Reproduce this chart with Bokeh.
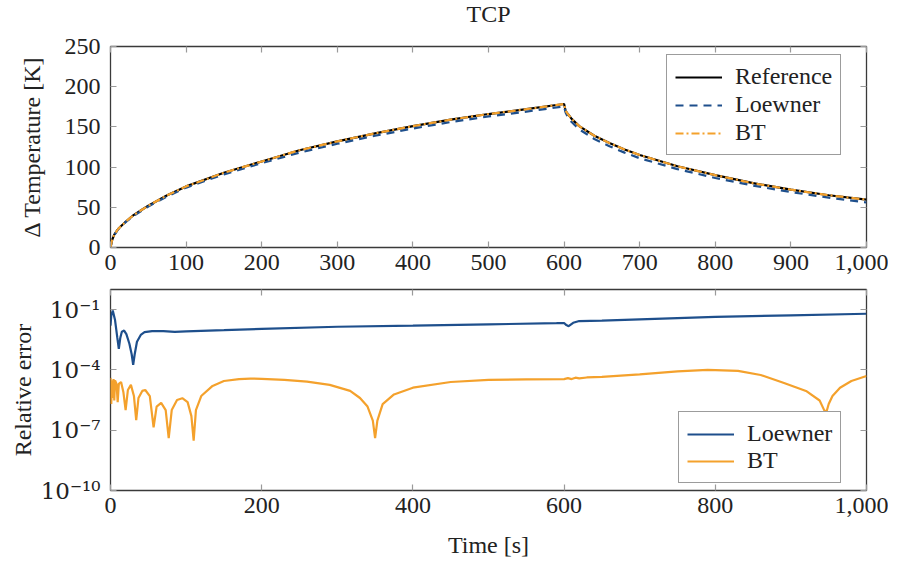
from bokeh.plotting import figure
from bokeh.layouts import column
from bokeh.models import (Range1d, LinearAxis, LogAxis, FixedTicker, NumeralTickFormatter,
                          CustomJSTickFormatter, Legend, LegendItem, CustomLabelingPolicy)
from bokeh.embed import file_html
from bokeh.resources import INLINE

# ---------------- data ----------------
t_top = [0, 2, 5, 10, 20, 30, 40, 50, 75, 100, 150, 200, 250, 300, 350, 400, 450, 500, 550, 600,
         602, 605, 610, 620, 640, 660, 680, 700, 750, 800, 850, 900, 950, 1000]
temp_reference = [0, 9, 16, 23, 32, 40, 46, 52, 65, 76, 93, 107, 121, 132, 142, 151, 159, 166, 172, 178.5,
                  170, 166, 160, 151, 139, 130, 122, 115, 101, 90, 80, 72, 65, 59.5]
temp_loewner = [0, 9, 15.5, 22.5, 31.5, 39, 45, 51, 63.5, 74.5, 91, 105, 118, 129, 139, 148, 156, 163, 169, 175.5,
                168, 162, 156, 147, 135, 126, 118, 111, 97.5, 86.5, 77, 69, 62, 56]
temp_bt = [0, 9, 16, 23, 32, 40, 46, 52, 65, 76, 93, 107, 121, 132, 142, 151, 159, 166, 172, 178.5,
           170, 166, 160, 151, 139, 130, 122, 115, 101, 90, 80, 72, 65, 59.5]

t_err_loewner = [0, 1, 3, 6, 9, 11, 13, 15, 18, 21, 25, 28, 30, 32, 35, 40, 45, 55, 70, 85, 100, 150, 200,
                 300, 400, 500, 590, 600, 603, 606, 612, 620, 650, 700, 800, 900, 1000]
err_loewner = [1.6e-2, 5e-2, 9e-2, 3e-2, 4e-3, 1.1e-3, 4e-3, 8e-3, 9e-3, 6e-3, 2e-3, 6e-4, 1.8e-4, 6e-4, 2.5e-3,
               5.5e-3, 7.5e-3, 8.5e-3, 8.5e-3, 7.8e-3, 8.3e-3, 9.5e-3, 1.1e-2,
               1.4e-2, 1.6e-2, 1.85e-2, 2.1e-2, 2.15e-2, 1.7e-2, 1.5e-2, 2.2e-2, 2.7e-2, 2.8e-2, 3.3e-2, 4.3e-2, 5.2e-2, 6.2e-2]

t_err_bt = [0, 1, 2, 3, 4, 5, 6, 8, 9.5, 11, 14, 17, 20, 23, 27, 31, 34, 37, 42, 46, 52, 57, 61, 67, 73, 77,
            81, 88, 95, 102, 107, 110, 113, 120, 135, 150, 170, 185, 200, 230, 260, 290, 317, 330, 340, 347,
            350, 353, 360, 375, 400, 450, 500, 550, 600, 605, 610, 615, 620, 630, 650, 700, 750, 790, 830,
            860, 890, 920, 938, 944, 947, 950, 955, 965, 980, 1000]
err_bt = [4e-5, 2e-6, 3e-5, 4e-6, 3.5e-5, 3e-6, 3e-5, 2e-5, 2.5e-6, 2e-5, 2.5e-5, 8e-6, 1e-6, 1e-5, 1.8e-5,
          5e-6, 3.2e-7, 4e-6, 9e-6, 1e-5, 5e-6, 1.4e-7, 1.5e-6, 2.3e-6, 1e-6, 4e-8,
          1e-6, 3.2e-6, 3.9e-6, 2.5e-6, 5e-7, 3e-8, 1e-6, 5e-6, 1.6e-5, 2.8e-5, 3.5e-5, 3.7e-5, 3.6e-5, 3.2e-5,
          2.6e-5, 1.8e-5, 9e-6, 4e-6, 1.5e-6, 3e-7,
          4e-8, 3e-7, 2e-6, 6e-6, 1.3e-5, 2.5e-5, 3.2e-5, 3.4e-5, 3.5e-5, 3.9e-5, 3.5e-5, 4.1e-5, 3.8e-5, 4.2e-5,
          4.5e-5, 6e-5, 8.5e-5, 1e-4, 9e-5,
          5.6e-5, 2.3e-5, 9e-6, 3e-6, 1e-6, 8e-7, 2e-6, 5e-6, 1.3e-5, 2.8e-5, 5e-5]

top_xticks = [0, 100, 200, 300, 400, 500, 600, 700, 800, 900, 1000]
top_yticks = [0, 50, 100, 150, 200, 250]
bot_xticks = [0, 200, 400, 600, 800, 1000]
bot_yticks = [1e-10, 1e-7, 1e-4, 1e-1]

# ---------------- style ----------------
FONT = "Liberation Serif"
FS = "24px"
BLUE = "#1E4F8C"
ORANGE = "#F4A12C"
FRAME = "#3a3a3a"
TICK = "#9a9a9a"
TXT = "#222222"


def style_axis(ax, ticks, show_labels=True, standoff=7):
    ax.ticker = FixedTicker(ticks=ticks)
    ax.axis_line_color = None
    ax.major_tick_in = 6
    ax.major_tick_out = 0
    ax.major_tick_line_color = TICK
    ax.major_tick_line_width = 1.2
    ax.minor_tick_line_color = None
    ax.major_label_text_font = FONT
    ax.major_label_text_color = TXT
    ax.axis_label_text_font = FONT
    ax.axis_label_text_font_size = FS
    ax.axis_label_text_font_style = "normal"
    ax.axis_label_text_color = TXT
    if show_labels:
        ax.major_label_text_font_size = FS
        ax.major_label_standoff = standoff
    else:
        ax.major_label_text_font_size = "1px"
        ax.major_label_standoff = standoff
        ax.major_label_policy = CustomLabelingPolicy(
            code="for (const i of indices) { indices.unset(i) } return indices")


def style_legend(leg, spacing):
    leg.label_text_font = FONT
    leg.label_text_font_size = FS
    leg.label_text_color = TXT
    leg.glyph_width = 47
    leg.glyph_height = 26
    leg.label_height = 26
    leg.spacing = spacing
    leg.padding = 8
    leg.label_standoff = 13
    leg.border_line_color = FRAME
    leg.border_line_width = 1.2
    leg.background_fill_alpha = 1


# ---------------- top figure ----------------
p1 = figure(width=888, height=279, x_range=Range1d(0, 1000), y_range=Range1d(0, 250),
            output_backend="svg", toolbar_location=None, title="TCP",
            min_border_left=110, min_border_right=22, min_border_top=46, min_border_bottom=32)
p1.title.text_font = FONT
p1.title.text_font_size = FS
p1.title.text_font_style = "normal"
p1.title.align = "center"
p1.title.vertical_align = "top"
p1.title.text_color = TXT
p1.title.standoff = 0
p1.grid.visible = False
p1.outline_line_color = FRAME
p1.outline_line_width = 1.3

style_axis(p1.xaxis[0], top_xticks)
p1.xaxis[0].formatter = NumeralTickFormatter(format="0,0")
style_axis(p1.yaxis[0], top_yticks, standoff=10)
p1.yaxis[0].axis_label = "Δ Temperature [K]"
p1.yaxis[0].axis_label_standoff = 17

ax_top = LinearAxis()
style_axis(ax_top, top_xticks, show_labels=False, standoff=14)
p1.add_layout(ax_top, "above")
ax_right = LinearAxis()
style_axis(ax_right, top_yticks, show_labels=False, standoff=0)
p1.add_layout(ax_right, "right")

r_ref = p1.line(t_top, temp_reference, line_color="black", line_width=2.2)
r_loe = p1.line(t_top, temp_loewner, line_color=BLUE, line_width=2.2, line_dash="8 6")
r_bt = p1.line(t_top, temp_bt, line_color=ORANGE, line_width=2.2, line_dash="8 3 2 3")

leg1 = Legend(items=[LegendItem(label="Reference", renderers=[r_ref]),
                     LegendItem(label="Loewner", renderers=[r_loe]),
                     LegendItem(label="BT", renderers=[r_bt])],
              location=(556, 92))
style_legend(leg1, 1)
p1.add_layout(leg1, "center")

# ---------------- bottom figure ----------------
p2 = figure(width=888, height=281, x_range=Range1d(0, 1000), y_range=Range1d(1e-10, 1),
            y_axis_type="log", output_backend="svg", toolbar_location=None,
            min_border_left=110, min_border_right=22, min_border_top=10, min_border_bottom=70)
p2.grid.visible = False
p2.outline_line_color = FRAME
p2.outline_line_width = 1.3

style_axis(p2.xaxis[0], bot_xticks)
p2.xaxis[0].formatter = NumeralTickFormatter(format="0,0")
p2.xaxis[0].axis_label = "Time [s]"
p2.xaxis[0].axis_label_standoff = 16
style_axis(p2.yaxis[0], bot_yticks, standoff=10)
p2.yaxis[0].major_label_text_font = "DejaVu Serif"
p2.yaxis[0].major_label_text_font_size = "23px"
p2.yaxis[0].axis_label = "Relative error"
p2.yaxis[0].axis_label_standoff = 2
p2.yaxis[0].formatter = CustomJSTickFormatter(code="""
const sup = {'-':'\u207b','0':'\u2070','1':'\u00b9','2':'\u00b2','3':'\u00b3','4':'\u2074',
             '5':'\u2075','6':'\u2076','7':'\u2077','8':'\u2078','9':'\u2079'};
const e = Math.round(Math.log10(tick)).toString();
let s = '';
for (const c of e) { s += sup[c]; }
return '10' + s;
""")

ax_top2 = LinearAxis()
style_axis(ax_top2, bot_xticks, show_labels=False, standoff=0)
p2.add_layout(ax_top2, "above")
ax_right2 = LogAxis()
style_axis(ax_right2, bot_yticks, show_labels=False, standoff=0)
p2.add_layout(ax_right2, "right")

r_el = p2.line(t_err_loewner, err_loewner, line_color=BLUE, line_width=2.2)
r_eb = p2.line(t_err_bt, err_bt, line_color=ORANGE, line_width=2.2)

leg2 = Legend(items=[LegendItem(label="Loewner", renderers=[r_el]),
                     LegendItem(label="BT", renderers=[r_eb])],
              location=(568, 7))
style_legend(leg2, 0)
p2.add_layout(leg2, "center")

layout = column(p1, p2, spacing=0)
open("out.html", "w").write(file_html(layout, INLINE))
